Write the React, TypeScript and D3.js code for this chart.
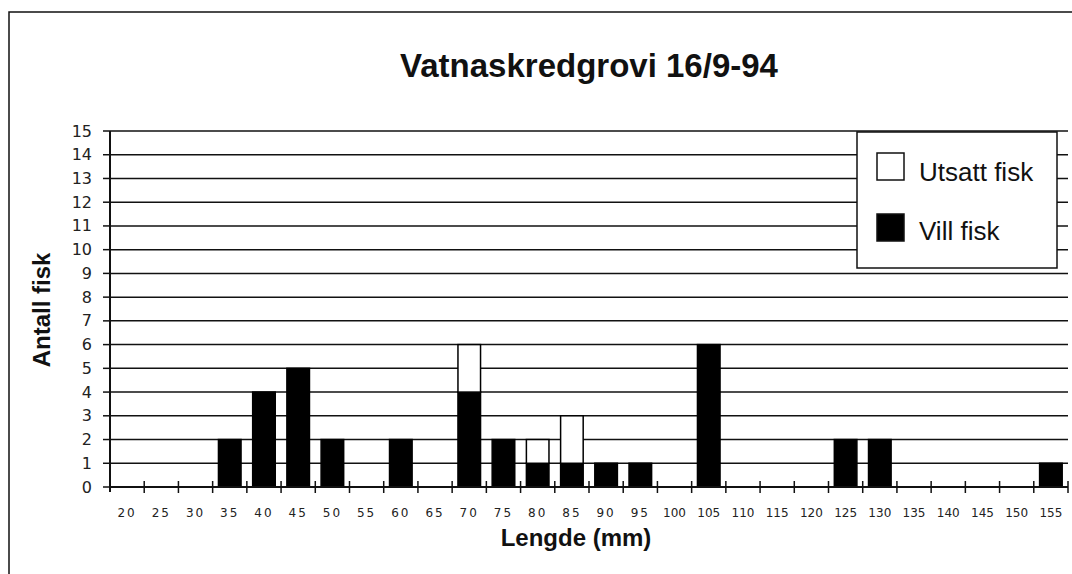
import React from "react";
import * as d3 from "d3";

const categories = ["20","25","30","35","40","45","50","55","60","65","70","75","80","85","90","95","100","105","110","115","120","125","130","135","140","145","150","155"];
const villFisk = [0,0,0,2,4,5,2,0,2,0,4,2,1,1,1,1,0,6,0,0,0,2,2,0,0,0,0,1];
const utsattFisk = [0,0,0,0,0,0,0,0,0,0,2,0,1,2,0,0,0,0,0,0,0,0,0,0,0,0,0,0];
const yTicks = [0,1,2,3,4,5,6,7,8,9,10,11,12,13,14,15];
const titleText = "Vatnaskredgrovi 16/9-94";
const xTitle = "Lengde (mm)";
const yTitle = "Antall fisk";
const legendLabels = ["Utsatt fisk", "Vill fisk"];

const W = 1072, H = 574;
const plotLeft = 110, plotRight = 1068, plotTop = 131, plotBottom = 487;

export default function App() {
  const x = d3.scaleBand<string>().domain(categories).range([plotLeft, plotRight]).paddingInner(0.34).paddingOuter(0.17);
  const step = x.step();
  const y = d3.scaleLinear().domain([0, 15]).range([plotBottom, plotTop]);
  const rows = categories.map((c, i) => ({ cat: c, vill: villFisk[i], utsatt: utsattFisk[i] }));
  const stacked = d3.stack<any>().keys(["vill", "utsatt"])(rows);
  const sans = "'Liberation Sans', Arial, sans-serif";
  const tickFont = "'DejaVu Sans', sans-serif";

  return (
    <svg width={W} height={H} style={{ position: "absolute", left: 0, top: 0, background: "#fff" }}>
      <rect x={0} y={0} width={W} height={H} fill="#fff" />
      {/* outer frame */}
      <rect x={9} y={12} width={1100} height={700} fill="none" stroke="#111" strokeWidth={1.5} />
      {/* title */}
      <text x={589} y={77} textAnchor="middle" fontFamily={sans} fontWeight="bold" fontSize={33} fill="#111">{titleText}</text>
      {/* gridlines */}
      {yTicks.filter(t => t > 0).map(t => (
        <line key={"g" + t} x1={plotLeft} x2={plotRight} y1={y(t)} y2={y(t)} stroke="#111" strokeWidth={1.5} />
      ))}
      {/* y ticks and labels */}
      {yTicks.map(t => (
        <g key={"yt" + t}>
          <line x1={plotLeft - 7} x2={plotLeft} y1={y(t)} y2={y(t)} stroke="#111" strokeWidth={1.5} />
          <text x={92} y={y(t)} textAnchor="end" dominantBaseline="central" fontFamily={tickFont} fontSize={16} fill="#222">{t}</text>
        </g>
      ))}
      {/* bars */}
      {stacked.map((series, si) => (
        <g key={"s" + si}>
          {series.map((d, i) => {
            const h = y(d[0]) - y(d[1]);
            if (h <= 0) return null;
            return (
              <rect key={i} x={x(categories[i])} y={y(d[1])} width={x.bandwidth()} height={h}
                fill={si === 0 ? "#000" : "#fff"} stroke="#000" strokeWidth={1.5} />
            );
          })}
        </g>
      ))}
      {/* axes */}
      <line x1={plotLeft} x2={plotLeft} y1={plotTop} y2={plotBottom + 5} stroke="#111" strokeWidth={2} />
      <line x1={plotLeft} x2={plotRight} y1={plotBottom} y2={plotBottom} stroke="#111" strokeWidth={2} />
      {categories.map((c, i) => (
        <line key={"xt" + c} x1={plotLeft + (i + 1) * step} x2={plotLeft + (i + 1) * step} y1={plotBottom - 6} y2={plotBottom + 6} stroke="#111" strokeWidth={1.5} />
      ))}
      {categories.map(c => (
        <text key={"xl" + c} x={(x(c) as number) + x.bandwidth() / 2} y={517} textAnchor="middle"
          fontFamily={tickFont} fontSize={12} letterSpacing={c.length > 2 ? 0 : 2} fill="#222">{c}</text>
      ))}
      {/* axis titles */}
      <text x={576} y={546} textAnchor="middle" fontFamily={sans} fontWeight="bold" fontSize={24} fill="#111">{xTitle}</text>
      <text transform="translate(50,310) rotate(-90)" textAnchor="middle" fontFamily={sans} fontWeight="bold" fontSize={24} fill="#111">{yTitle}</text>
      {/* legend */}
      <rect x={857} y={132} width={200} height={136} fill="#fff" stroke="#111" strokeWidth={1.5} />
      <rect x={877} y={153} width={27} height={27} fill="#fff" stroke="#111" strokeWidth={1.5} />
      <text x={919} y={181} fontFamily={sans} fontSize={26} fill="#111">{legendLabels[0]}</text>
      <rect x={877} y={214} width={27} height={27} fill="#000" stroke="#111" strokeWidth={1.5} />
      <text x={919} y={240} fontFamily={sans} fontSize={26} fill="#111">{legendLabels[1]}</text>
    </svg>
  );
}
